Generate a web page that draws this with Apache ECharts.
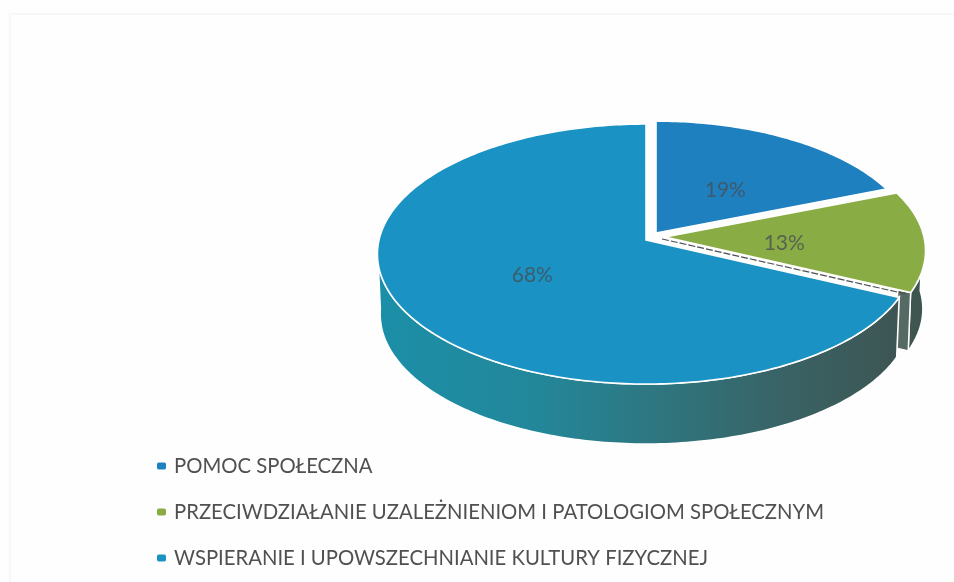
<!DOCTYPE html>
<html>
<head>
<meta charset="utf-8">
<style>
  html, body { margin: 0; padding: 0; background: #fff; }
  #chart { width: 954px; height: 582px; }
</style>
<script src="https://cdn.jsdelivr.net/npm/echarts@6/dist/echarts.min.js"></script>
</head>
<body>
<div id="chart"></div>
<script>
const categories = [
  'POMOC SPOŁECZNA',
  'PRZECIWDZIAŁANIE UZALEŻNIENIOM I PATOLOGIOM SPOŁECZNYM',
  'WSPIERANIE I UPOWSZECHNIANIE KULTURY FIZYCZNEJ'
];
const shares = [19, 13, 68];

// ECharts has no tilted pie, so each slice is projected from its share of the circle
const R = 267, S = 128.5, K = 0.108, DEPTH = 60;
const colors = ['#1f80c0', '#8aac45', '#1a92c3'];
const sliceGeom = [
  { ax: 656, ay: 233, scale: 0.965, labelR: 0.5, labelDy: 6 },
  { ax: 665, ay: 237, scale: 0.97, labelR: 0.46, labelDy: 4 },
  { ax: 646, ay: 240, scale: 1, labelR: 0.49, labelDy: 1 }
];
const total = shares.reduce((a, b) => a + b, 0);

function project(g, deg, r, down) {
  const t = deg * Math.PI / 180;
  const u = r * Math.sin(t), v = -r * Math.cos(t);
  const d = 1 - K * v;
  const sx = down ? 0.99 : 1;
  return [
    g.ax + g.scale * sx * R * u / d,
    g.ay + g.scale * S * v / d + (down ? DEPTH * g.scale : 0)
  ];
}

function arc(g, from, to, down) {
  const pts = [];
  const n = Math.max(2, Math.ceil(Math.abs(to - from)));
  for (let i = 0; i <= n; i++) pts.push(project(g, from + (to - from) * i / n, 1, down));
  return pts;
}

function sideFill(i) {
  if (i !== 2) return '#3f5650';
  return new echarts.graphic.LinearGradient(380, 0, 900, 0, [
    { offset: 0, color: '#1b8fa8' },
    { offset: 0.3, color: '#23879a' },
    { offset: 0.55, color: '#2f757e' },
    { offset: 0.8, color: '#3a6163' },
    { offset: 1, color: '#3d5553' }
  ], true);
}

function sliceSeries(i) {
  const start = shares.slice(0, i).reduce((a, b) => a + b, 0) / total * 360;
  const end = start + shares[i] / total * 360;
  const g = sliceGeom[i];
  const white = { stroke: '#fff', lineWidth: 1.6 };
  return {
    type: 'custom',
    name: categories[i],
    coordinateSystem: 'none',
    silent: true,
    animation: false,
    itemStyle: { color: colors[i] },
    data: [[shares[i]]],
    renderItem: function (params, api) {
      const value = api.value(0);
      const children = [];
      // outer rim, only the part facing the viewer
      const a = Math.max(start, 88), b = Math.min(end, 266);
      if (b > a) {
        const pts = arc(g, a, b, false).concat(arc(g, b, a, true));
        children.push({ type: 'polygon', shape: { points: pts }, style: Object.assign({ fill: sideFill(i) }, white) });
      }
      // cut wall of the green slice: a sliver at the rim and a dashed edge in the gap
      if (i === 1) {
        children.push({
          type: 'polygon',
          shape: { points: [project(g, end, 0.95, false), project(g, end, 1, false), project(g, end, 1, true), project(g, end, 0.95, true)] },
          style: { fill: '#566a64', stroke: '#fff', lineWidth: 1.4 }
        });
        const p0 = project(g, 0, 0, false), p1 = project(g, end, 1, false);
        children.push({
          type: 'line',
          shape: { x1: p0[0] - 3, y1: p0[1] + 2, x2: p1[0] - 4, y2: p1[1] + 1.5 },
          style: { stroke: '#4a4f50', lineWidth: 1.2, lineDash: [7, 2] }
        });
      }
      const face = [project(g, 0, 0, false)].concat(arc(g, start, end, false));
      children.push({ type: 'polygon', shape: { points: face }, style: Object.assign({ fill: colors[i] }, white) });
      const lp = project(g, (start + end) / 2, g.labelR, false);
      children.push({
        type: 'text',
        style: {
          text: value + '%', x: lp[0], y: lp[1] + g.labelDy,
          fill: 'rgba(70,78,84,0.78)',
          font: '21px Lato, "Open Sans", sans-serif',
          align: 'center', verticalAlign: 'middle'
        }
      });
      return { type: 'group', children: children };
    }
  };
}

const chart = echarts.init(document.getElementById('chart'));
chart.setOption({
  animation: false,
  backgroundColor: '#fefefe',
  // faint scanned frame of the chart area
  graphic: [{
    type: 'polyline',
    silent: true,
    shape: { points: [[10, 582], [10, 14], [954, 14]] },
    style: { fill: null, stroke: '#f7f7f7', lineWidth: 2 }
  }],
  legend: {
    orient: 'vertical',
    left: 152,
    top: 449,
    data: categories,
    icon: 'roundRect',
    itemWidth: 9,
    itemHeight: 7,
    itemGap: 22,
    selectedMode: false,
    textStyle: {
      color: '#505050',
      fontFamily: 'Lato, "Open Sans", sans-serif',
      fontSize: 20.3,
      lineHeight: 24,
      padding: [0, 0, 0, 3]
    }
  },
  series: categories.map((c, i) => sliceSeries(i))
});
</script>
</body>
</html>
